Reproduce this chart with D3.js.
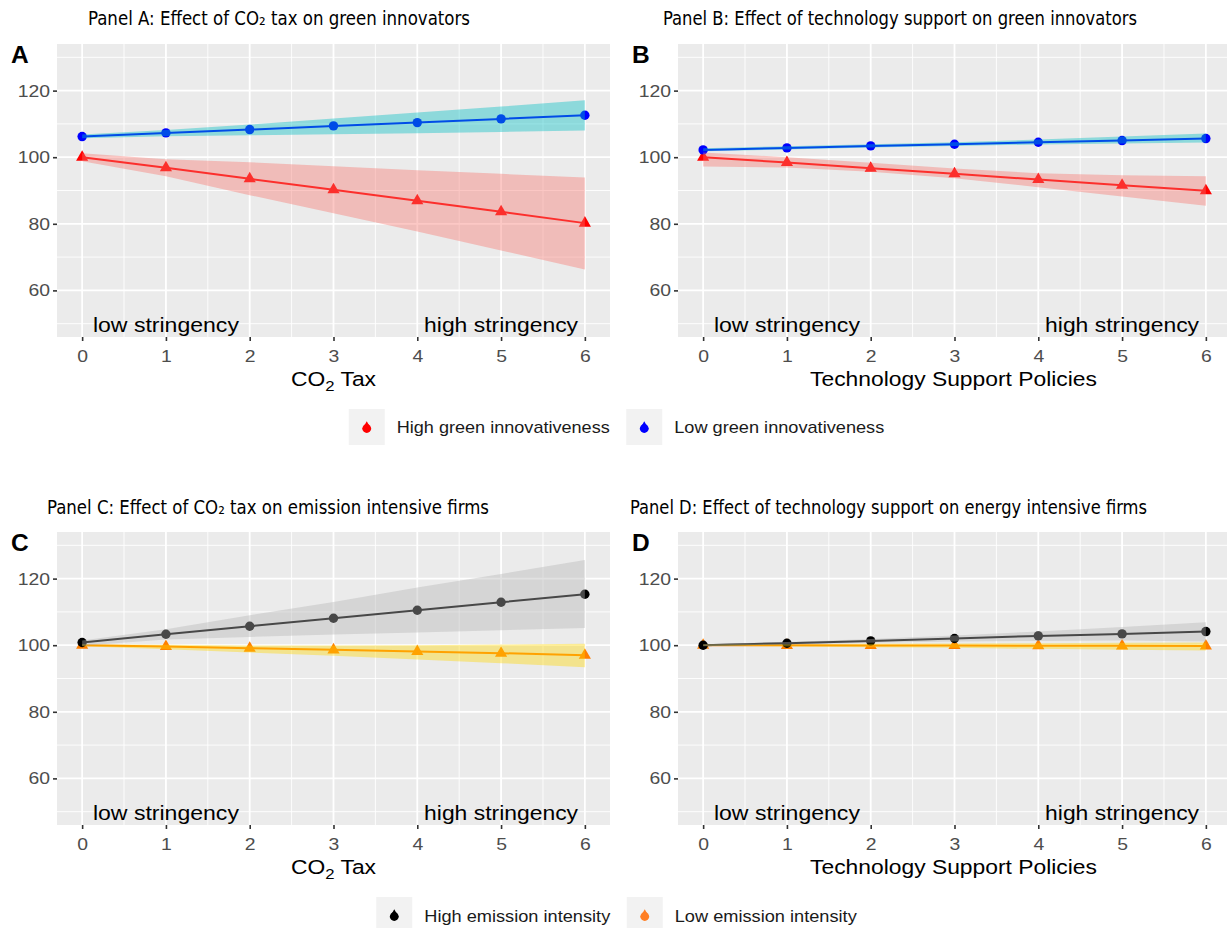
<!DOCTYPE html>
<html><head><meta charset="utf-8">
<script src="https://cdn.jsdelivr.net/npm/d3@7"></script>
<style>body{margin:0;background:#fff;overflow:hidden}</style>
</head><body>
<svg id="c" width="1227" height="928"></svg>
<script>
// ---------- data ----------
const xValues = [0, 1, 2, 3, 4, 5, 6];
const xTicks = [0, 1, 2, 3, 4, 5, 6];
const xMinor = [0.5, 1.5, 2.5, 3.5, 4.5, 5.5];
const yTicks = [60, 80, 100, 120];
const yMinor = [50, 70, 90, 110, 130];

// Panel A: CO2 tax, green innovators
const aHighMean  = [100, 96.8, 93.5, 90.2, 86.9, 83.6, 80.2];
const aHighLower = [98.8, 94.3, 88.6, 83.2, 77.7, 72.0, 66.3];
const aHighUpper = [101.2, 99.4, 98.5, 97.3, 96.1, 95.0, 93.9];
const aLowMean   = [106.2, 107.3, 108.3, 109.4, 110.4, 111.5, 112.6];
const aLowLower  = [105.7, 106.3, 106.6, 106.9, 107.2, 107.6, 108.0];
const aLowUpper  = [106.8, 108.2, 109.8, 111.6, 113.4, 115.2, 117.1];

// Panel B: technology support, green innovators
const bHighMean  = [100, 98.4, 96.7, 95.0, 93.3, 91.6, 89.9];
const bHighLower = [97.2, 96.9, 95.6, 93.7, 91.0, 88.2, 85.4];
const bHighUpper = [101.4, 100.0, 98.3, 96.6, 95.2, 94.6, 94.3];
const bLowMean   = [102.2, 102.8, 103.4, 103.9, 104.5, 105.0, 105.6];
const bLowLower  = [101.8, 102.3, 102.9, 103.4, 103.8, 104.1, 104.4];
const bLowUpper  = [102.7, 103.3, 103.9, 104.5, 105.3, 106.2, 107.1];

// Panel C: CO2 tax, emission intensive firms
const cHighMean  = [100.8, 103.3, 105.7, 108.1, 110.5, 112.9, 115.3];
const cHighLower = [99.8, 101.7, 102.5, 103.2, 103.8, 104.5, 105.2];
const cHighUpper = [101.4, 104.8, 109.0, 113.0, 117.3, 121.4, 125.6];
const cLowMean   = [100, 99.6, 99.1, 98.6, 98.1, 97.6, 97.0];
const cLowLower  = [99.7, 98.8, 97.8, 96.8, 95.7, 94.6, 93.4];
const cLowUpper  = [100.3, 100.1, 99.9, 99.9, 100.0, 100.2, 100.4];

// Panel D: technology support, energy intensive firms
const dHighMean  = [100, 100.6, 101.3, 102.0, 102.8, 103.4, 104.1];
const dHighLower = [99.7, 100.2, 100.7, 101.1, 101.3, 101.4, 101.1];
const dHighUpper = [100.3, 101.0, 101.9, 102.9, 104.1, 105.5, 106.9];
const dLowMean   = [100, 99.95, 99.9, 99.9, 99.85, 99.8, 99.75];
const dLowLower  = [99.8, 99.6, 99.4, 99.2, 98.9, 98.6, 98.4];
const dLowUpper  = [100.2, 100.3, 100.4, 100.5, 100.6, 100.7, 100.8];

const panelTitles = [
  "Panel A: Effect of CO₂ tax on green innovators",
  "Panel B: Effect of technology support on green innovators",
  "Panel C: Effect of CO₂ tax on emission intensive firms",
  "Panel D: Effect of technology support on energy intensive firms"
];
const panelLetters = ["A", "B", "C", "D"];
const annotations = ["low stringency", "high stringency"];
const annotationX = [1, 5];
const annotationY = 50;
const legendTop = ["High green innovativeness", "Low green innovativeness"];
const legendBottom = ["High emission intensity", "Low emission intensity"];

// ---------- styles ----------
const colHigh = "#ff0000", colLow = "#0000ff", colBlack = "#000000", colOrange = "#ff7f00";
const fillHigh = "#F8766D", fillLow = "#00BFC4", fillGrey = "#b3b3b3", fillGold = "#ffd700";
const legendOrange = "#ff7f24";

const svg = d3.select("#c");
const SANS = "'Liberation Sans', Arial, Helvetica, sans-serif";
const NARROW = "'Liberation Sans Narrow', 'Arial Narrow', 'DejaVu Sans Condensed', sans-serif";

function fit(sel, target) {
  sel.attr("textLength", target).attr("lengthAdjust", "spacingAndGlyphs");
}
function stretch(sel, f) {
  sel.each(function () {
    const w = this.getComputedTextLength();
    this.setAttribute("textLength", w * f);
    this.setAttribute("lengthAdjust", "spacingAndGlyphs");
  });
}

const panelW = 553, panelH = 293;
const panels = [
  { left: 57, top: 44, xTitle: "co2", xTitleW: 85, titleX: 88, titleW: 382, titleY: 24.5, letterX: 11, letterY: 63,
    series: [
      { mean: aHighMean, lower: aHighLower, upper: aHighUpper, color: colHigh, fill: fillHigh, shape: "tri" },
      { mean: aLowMean, lower: aLowLower, upper: aLowUpper, color: colLow, fill: fillLow, shape: "circ" }] },
  { left: 678, top: 44, xTitle: "Technology Support Policies", xTitleW: 287, titleX: 663, titleW: 474, titleY: 24.5, letterX: 632, letterY: 63,
    series: [
      { mean: bHighMean, lower: bHighLower, upper: bHighUpper, color: colHigh, fill: fillHigh, shape: "tri" },
      { mean: bLowMean, lower: bLowLower, upper: bLowUpper, color: colLow, fill: fillLow, shape: "circ" }] },
  { left: 57, top: 532, xTitle: "co2", xTitleW: 85, titleX: 47, titleW: 442, titleY: 514, letterX: 11, letterY: 551,
    series: [
      { mean: cLowMean, lower: cLowLower, upper: cLowUpper, color: colOrange, fill: fillGold, shape: "tri" },
      { mean: cHighMean, lower: cHighLower, upper: cHighUpper, color: colBlack, fill: fillGrey, shape: "circ" }] },
  { left: 678, top: 532, xTitle: "Technology Support Policies", xTitleW: 287, titleX: 630, titleW: 517, titleY: 514, letterX: 632, letterY: 551,
    series: [
      { mean: dLowMean, lower: dLowLower, upper: dLowUpper, color: colOrange, fill: fillGold, shape: "tri" },
      { mean: dHighMean, lower: dHighLower, upper: dHighUpper, color: colBlack, fill: fillGrey, shape: "circ" }] }
];

panels.forEach((p, pi) => {
  const g = svg.append("g");
  const x = d3.scaleLinear().domain([-0.3, 6.3]).range([p.left, p.left + panelW]);
  const y = d3.scaleLinear().domain([46, 134]).range([p.top + panelH, p.top]);

  g.append("rect").attr("x", p.left).attr("y", p.top).attr("width", panelW).attr("height", panelH).attr("fill", "#ebebeb");

  // grid
  g.selectAll(".ym").data(yMinor).join("line")
    .attr("x1", p.left).attr("x2", p.left + panelW).attr("y1", d => y(d)).attr("y2", d => y(d))
    .attr("stroke", "#fff").attr("stroke-width", 0.9);
  g.selectAll(".xm").data(xMinor).join("line")
    .attr("y1", p.top).attr("y2", p.top + panelH).attr("x1", d => x(d)).attr("x2", d => x(d))
    .attr("stroke", "#fff").attr("stroke-width", 0.9);
  g.selectAll(".yM").data(yTicks).join("line")
    .attr("x1", p.left).attr("x2", p.left + panelW).attr("y1", d => y(d)).attr("y2", d => y(d))
    .attr("stroke", "#fff").attr("stroke-width", 1.8);
  g.selectAll(".xM").data(xTicks).join("line")
    .attr("y1", p.top).attr("y2", p.top + panelH).attr("x1", d => x(d)).attr("x2", d => x(d))
    .attr("stroke", "#fff").attr("stroke-width", 1.8);

  // lines
  p.series.forEach(s => {
    const line = d3.line().x((d, i) => x(xValues[i])).y(d => y(d));
    g.append("path").attr("d", line(s.mean)).attr("fill", "none").attr("stroke", s.color).attr("stroke-width", 2);
  });
  // points
  p.series.forEach(s => {
    if (s.shape === "circ") {
      g.selectAll(null).data(s.mean).join("circle")
        .attr("cx", (d, i) => x(xValues[i])).attr("cy", d => y(d)).attr("r", 4.7).attr("fill", s.color);
    } else {
      const sym = d3.symbol(d3.symbolTriangle, 64)();
      g.selectAll(null).data(s.mean).join("path")
        .attr("d", sym).attr("transform", (d, i) => `translate(${x(xValues[i])},${y(d)})`).attr("fill", s.color);
    }
  });
  // ribbons
  p.series.forEach(s => {
    const area = d3.area().x((d, i) => x(xValues[i])).y0((d, i) => y(s.lower[i])).y1((d, i) => y(s.upper[i]));
    g.append("path").attr("d", area(s.mean)).attr("fill", s.fill).attr("fill-opacity", 0.4);
  });

  // annotations
  annotations.forEach((t, i) => {
    const tx = g.append("text").attr("x", x(annotationX[i])).attr("y", y(annotationY)).attr("dy", "0.38em")
      .attr("text-anchor", "middle").attr("font-family", SANS).attr("font-size", 21).attr("fill", "#000").text(t);
    fit(tx, i === 0 ? 146 : 154);
  });

  // axes
  const ya = g.append("g").attr("transform", `translate(${p.left},0)`)
    .call(d3.axisLeft(y).tickValues(yTicks).tickSize(4).tickPadding(3));
  const xa = g.append("g").attr("transform", `translate(0,${p.top + panelH})`)
    .call(d3.axisBottom(x).tickValues(xTicks).tickSize(4).tickPadding(8.5).tickFormat(d3.format("d")));
  [ya, xa].forEach(a => {
    a.select(".domain").remove();
    a.selectAll(".tick line").attr("stroke", "#333").attr("stroke-width", 1.6);
    a.selectAll(".tick text").attr("fill", "#4d4d4d").attr("font-size", 17).attr("font-family", SANS);
    stretch(a.selectAll(".tick text"), 1.14);
  });

  // x axis title
  const cx = p.left + panelW / 2 - (pi % 2 === 1 ? 1 : 0);
  const xt = g.append("text").attr("x", cx).attr("y", p.top + panelH + 49).attr("text-anchor", "middle")
    .attr("font-family", SANS).attr("font-size", 20.5).attr("fill", "#000");
  if (p.xTitle === "co2") {
    xt.append("tspan").text("CO");
    xt.append("tspan").attr("font-size", 15).attr("dy", 5).text("2");
    xt.append("tspan").attr("dy", -5).text(" Tax");
  } else {
    xt.text(p.xTitle);
  }
  fit(xt, p.xTitleW);

  // panel title
  const tt = svg.append("text").attr("x", p.titleX).attr("y", p.titleY)
    .attr("font-family", NARROW).attr("font-size", 19.5).attr("fill", "#000").text(panelTitles[pi]);
  fit(tt, p.titleW);

  // panel letter
  svg.append("text").attr("x", p.letterX).attr("y", p.letterY).attr("font-family", SANS)
    .attr("font-weight", "bold").attr("font-size", 24.5).attr("fill", "#000").text(panelLetters[pi]);
});

// ---------- legends ----------
function glyph(g, cx, cy, color) {
  g.append("circle").attr("cx", cx).attr("cy", cy + 1).attr("r", 4.4).attr("fill", color);
  g.append("path").attr("d", d3.symbol(d3.symbolTriangle, 36)()).attr("transform", `translate(${cx},${cy - 1})`).attr("fill", color);
}
function legend(labels, colors, widths, center, keyTop, baseline) {
  const g = svg.append("g");
  const keyW = 36, gap = 12, itemGap = 16.5;
  const total = 2 * keyW + 2 * gap + widths[0] + widths[1] + itemGap;
  let cur = center - total / 2;
  labels.forEach((lab, i) => {
    g.append("rect").attr("x", cur).attr("y", keyTop).attr("width", keyW).attr("height", keyW).attr("fill", "#f2f2f2");
    glyph(g, cur + keyW / 2, keyTop + keyW / 2 + 0.5, colors[i]);
    const t = g.append("text").attr("x", cur + keyW + gap).attr("y", baseline).attr("font-family", SANS)
      .attr("font-size", 17).attr("fill", "#1a1a1a").text(lab);
    fit(t, widths[i]);
    cur += keyW + gap + widths[i] + itemGap;
  });
}
legend(legendTop, [colHigh, colLow], [213, 210], 616.5, 409, 433);
legend(legendBottom, [colBlack, legendOrange], [186, 182], 616.5, 897, 921.5);
</script>
</body></html>
